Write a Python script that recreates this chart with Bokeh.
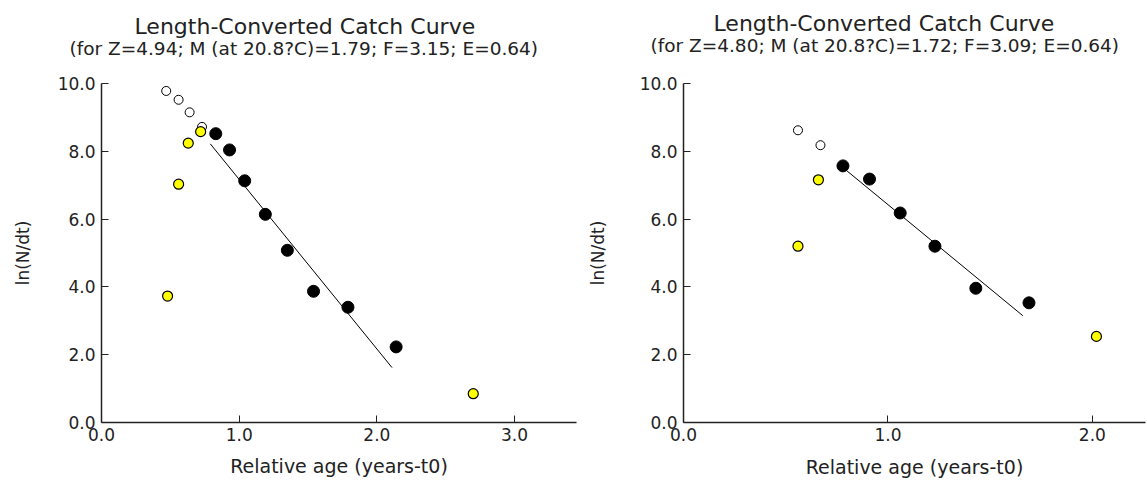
from bokeh.plotting import figure
from bokeh.models import Title, Range1d
from bokeh.layouts import row
from bokeh.embed import file_html
from bokeh.resources import INLINE

# ---- Left chart data ----
L_title = "Length-Converted Catch Curve"
L_sub = "(for Z=4.94; M (at 20.8?C)=1.79; F=3.15; E=0.64)"
L_open_x = [0.47, 0.56, 0.64, 0.73]
L_open_y = [9.78, 9.52, 9.15, 8.72]
L_yel_x = [0.48, 0.56, 0.63, 0.72, 2.70]
L_yel_y = [3.73, 7.03, 8.24, 8.58, 0.85]
L_blk_x = [0.83, 0.93, 1.04, 1.19, 1.35, 1.54, 1.79, 2.14]
L_blk_y = [8.52, 8.04, 7.13, 6.14, 5.08, 3.87, 3.40, 2.23]
L_line_x = [0.79, 2.11]
L_line_y = [8.22, 1.62]
L_xticks = [0, 1, 2, 3]

# ---- Right chart data ----
R_title = "Length-Converted Catch Curve"
R_sub = "(for Z=4.80; M (at 20.8?C)=1.72; F=3.09; E=0.64)"
R_open_x = [0.56, 0.67]
R_open_y = [8.62, 8.18]
R_yel_x = [0.56, 0.66, 2.02]
R_yel_y = [5.20, 7.16, 2.54]
R_blk_x = [0.78, 0.91, 1.06, 1.23, 1.43, 1.69]
R_blk_y = [7.57, 7.18, 6.18, 5.20, 3.96, 3.53]
R_line_x = [0.78, 1.66]
R_line_y = [7.52, 3.15]
R_xticks = [0, 1, 2]

y_ticks = [0, 2, 4, 6, 8, 10]
x_label = "Relative age (years-t0)"
y_label = "ln(N/dt)"

FONT = "DejaVu Sans"
TXT = "#222222"


def make(width, xmax, xticks, title, sub, ox, oy, yx, yy, bx, by, lx, ly,
         left, top, bottom, t_off, s_off, ylab_standoff, spacer_size, xlab_standoff):
    p = figure(width=width, height=485, output_backend="svg", toolbar_location=None,
               x_range=Range1d(0, xmax), y_range=Range1d(0, 10),
               min_border_left=left, min_border_right=2, min_border_top=top,
               min_border_bottom=bottom)
    p.title.text = title
    p.title.align = "left"
    p.title.offset = t_off
    p.title.text_font = FONT
    p.title.text_font_size = "22px"
    p.title.text_font_style = "normal"
    p.title.text_color = TXT
    p.title.standoff = -7
    spacer = Title(text=" ", align="left", text_font_size=spacer_size, standoff=0)
    p.add_layout(spacer, "above")
    st = Title(text=sub, align="left", offset=s_off, text_font=FONT,
               text_font_size="18.5px", text_font_style="normal", text_color=TXT,
               standoff=0)
    p.add_layout(st, "above")
    p.outline_line_color = None
    p.grid.visible = False
    p.background_fill_color = "white"
    p.border_fill_color = "white"

    p.xaxis.ticker = xticks
    p.xaxis.major_label_overrides = {t: f"{t:.1f}" for t in xticks}
    p.yaxis.ticker = y_ticks
    p.yaxis.major_label_overrides = {t: f"{t:.1f}" for t in y_ticks}
    for ax in (p.xaxis, p.yaxis):
        ax.axis_line_color = "#222222"
        ax.axis_line_width = 1.5
        ax.major_tick_line_color = "#222222"
        ax.major_tick_in = 7
        ax.major_tick_out = 0
        ax.minor_tick_line_color = None
        ax.major_label_text_font = FONT
        ax.major_label_text_font_size = "17px"
        ax.major_label_text_color = TXT
        ax.axis_label_text_font = FONT
        ax.axis_label_text_font_style = "normal"
        ax.axis_label_text_color = TXT
    p.xaxis.axis_label_text_font_size = "19px"
    p.yaxis.axis_label_text_font_size = "17px"
    p.xaxis.major_label_standoff = 5
    p.xaxis.axis_label = x_label
    p.xaxis.axis_label_standoff = xlab_standoff
    p.yaxis.major_label_standoff = 6
    p.yaxis.axis_label = y_label
    p.yaxis.axis_label_standoff = ylab_standoff

    p.line(lx, ly, line_color="black", line_width=1)
    p.scatter(ox, oy, size=9, marker="circle", fill_color="white",
              line_color="black", line_width=1)
    p.scatter(yx, yy, size=10, marker="circle", fill_color="#FFFF00",
              line_color="black", line_width=1.2)
    p.scatter(bx, by, size=12, marker="circle", fill_color="black",
              line_color="black")
    return p


p1 = make(578, 3.45, L_xticks, L_title, L_sub, L_open_x, L_open_y, L_yel_x, L_yel_y,
          L_blk_x, L_blk_y, L_line_x, L_line_y, left=101, top=83, bottom=63,
          t_off=33, s_off=-32, ylab_standoff=22, spacer_size="21px", xlab_standoff=11)
p2 = make(569, 2.26, R_xticks, R_title, R_sub, R_open_x, R_open_y, R_yel_x, R_yel_y,
          R_blk_x, R_blk_y, R_line_x, R_line_y, left=105, top=83, bottom=63,
          t_off=30, s_off=-33, ylab_standoff=29, spacer_size="23px", xlab_standoff=12)

layout = row(p1, p2)
open("out.html", "w").write(file_html(layout, INLINE))
